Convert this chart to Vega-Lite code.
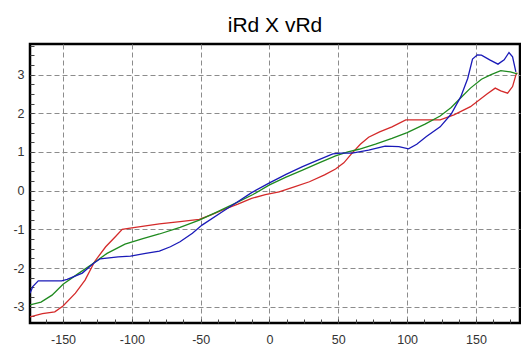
{
  "$schema": "https://vega.github.io/schema/vega-lite/v6.json",
  "width": 490,
  "height": 279,
  "autosize": "none",
  "padding": {"left": 30, "top": 44, "right": 1, "bottom": 32},
  "background": "white",
  "title": {"text": "iRd X vRd", "font": "Liberation Sans", "fontSize": 21, "fontWeight": "normal", "color": "black", "anchor": "middle", "offset": 8},
  "config": {
    "view": {"stroke": "black", "strokeWidth": 2.5},
    "axis": {"domain": false, "labelFont": "Liberation Sans", "labelFontSize": 12.5, "labelColor": "#333", "tickColor": "#444", "tickSize": -4, "gridColor": "#8c8c8c", "gridDash": [5, 3], "gridWidth": 1, "title": null}
  },
  "data": {"values": [
    {"s":"red","x":-174,"y":-3.26},{"s":"red","x":-165,"y":-3.18},{"s":"red","x":-156,"y":-3.13},{"s":"red","x":-150,"y":-2.98},{"s":"red","x":-141,"y":-2.65},{"s":"red","x":-134,"y":-2.31},{"s":"red","x":-127,"y":-1.83},{"s":"red","x":-119,"y":-1.45},{"s":"red","x":-112,"y":-1.19},{"s":"red","x":-107,"y":-1.0},{"s":"red","x":-100,"y":-0.96},{"s":"red","x":-90,"y":-0.91},{"s":"red","x":-80,"y":-0.86},{"s":"red","x":-65,"y":-0.8},{"s":"red","x":-51,"y":-0.74},{"s":"red","x":-42,"y":-0.62},{"s":"red","x":-34,"y":-0.5},{"s":"red","x":-23,"y":-0.35},{"s":"red","x":-13,"y":-0.2},{"s":"red","x":-3,"y":-0.1},{"s":"red","x":7,"y":-0.03},{"s":"red","x":18,"y":0.1},{"s":"red","x":29,"y":0.23},{"s":"red","x":40,"y":0.41},{"s":"red","x":48,"y":0.56},{"s":"red","x":54,"y":0.72},{"s":"red","x":60,"y":0.97},{"s":"red","x":66,"y":1.2},{"s":"red","x":72,"y":1.38},{"s":"red","x":80,"y":1.52},{"s":"red","x":89,"y":1.65},{"s":"red","x":99,"y":1.83},{"s":"red","x":110,"y":1.83},{"s":"red","x":124,"y":1.83},{"s":"red","x":134,"y":1.96},{"s":"red","x":146,"y":2.17},{"s":"red","x":158,"y":2.5},{"s":"red","x":164,"y":2.65},{"s":"red","x":168,"y":2.58},{"s":"red","x":173,"y":2.52},{"s":"red","x":176.6,"y":2.69},{"s":"red","x":179,"y":2.99},{"s":"red","x":180,"y":3.05},
    {"s":"green","x":-174,"y":-2.95},{"s":"green","x":-166,"y":-2.88},{"s":"green","x":-158,"y":-2.7},{"s":"green","x":-150,"y":-2.42},{"s":"green","x":-140,"y":-2.17},{"s":"green","x":-129,"y":-1.9},{"s":"green","x":-118,"y":-1.62},{"s":"green","x":-105,"y":-1.38},{"s":"green","x":-92,"y":-1.24},{"s":"green","x":-80,"y":-1.12},{"s":"green","x":-65,"y":-0.95},{"s":"green","x":-51,"y":-0.76},{"s":"green","x":-38,"y":-0.55},{"s":"green","x":-25,"y":-0.33},{"s":"green","x":-12,"y":-0.1},{"s":"green","x":0,"y":0.15},{"s":"green","x":12,"y":0.35},{"s":"green","x":24,"y":0.53},{"s":"green","x":36,"y":0.72},{"s":"green","x":48,"y":0.9},{"s":"green","x":57,"y":1.0},{"s":"green","x":65,"y":1.07},{"s":"green","x":77,"y":1.2},{"s":"green","x":89,"y":1.35},{"s":"green","x":100,"y":1.5},{"s":"green","x":113,"y":1.72},{"s":"green","x":124,"y":1.93},{"s":"green","x":132,"y":2.15},{"s":"green","x":139,"y":2.4},{"s":"green","x":146,"y":2.65},{"s":"green","x":154,"y":2.88},{"s":"green","x":161,"y":3.0},{"s":"green","x":168,"y":3.1},{"s":"green","x":175,"y":3.07},{"s":"green","x":180,"y":3.02},
    {"s":"blue","x":-174,"y":-2.65},{"s":"blue","x":-172,"y":-2.48},{"s":"blue","x":-168,"y":-2.33},{"s":"blue","x":-151,"y":-2.33},{"s":"blue","x":-147,"y":-2.29},{"s":"blue","x":-136,"y":-2.13},{"s":"blue","x":-128,"y":-1.88},{"s":"blue","x":-123,"y":-1.76},{"s":"blue","x":-110,"y":-1.71},{"s":"blue","x":-101,"y":-1.69},{"s":"blue","x":-90,"y":-1.62},{"s":"blue","x":-80,"y":-1.56},{"s":"blue","x":-72,"y":-1.45},{"s":"blue","x":-65,"y":-1.32},{"s":"blue","x":-56,"y":-1.1},{"s":"blue","x":-49,"y":-0.89},{"s":"blue","x":-34,"y":-0.54},{"s":"blue","x":-25,"y":-0.33},{"s":"blue","x":-13,"y":-0.05},{"s":"blue","x":0,"y":0.2},{"s":"blue","x":12,"y":0.42},{"s":"blue","x":24,"y":0.62},{"s":"blue","x":36,"y":0.8},{"s":"blue","x":46,"y":0.95},{"s":"blue","x":52,"y":0.97},{"s":"blue","x":60,"y":0.97},{"s":"blue","x":72,"y":1.05},{"s":"blue","x":84,"y":1.15},{"s":"blue","x":94,"y":1.14},{"s":"blue","x":101,"y":1.08},{"s":"blue","x":107,"y":1.2},{"s":"blue","x":114,"y":1.4},{"s":"blue","x":124,"y":1.65},{"s":"blue","x":132,"y":1.98},{"s":"blue","x":139,"y":2.43},{"s":"blue","x":144,"y":2.9},{"s":"blue","x":147.5,"y":3.4},{"s":"blue","x":151,"y":3.51},{"s":"blue","x":154,"y":3.5},{"s":"blue","x":160,"y":3.38},{"s":"blue","x":166,"y":3.27},{"s":"blue","x":170.5,"y":3.38},{"s":"blue","x":174,"y":3.57},{"s":"blue","x":176.6,"y":3.46},{"s":"blue","x":179,"y":3.07}
  ]},
  "mark": {"type": "line", "strokeWidth": 1.3, "clip": true},
  "encoding": {
    "x": {"field": "x", "type": "quantitative", "scale": {"domain": [-174, 182], "nice": false, "zero": false},
      "axis": {"values": [-162.5,-150,-137.5,-125,-112.5,-100,-87.5,-75,-62.5,-50,-37.5,-25,-12.5,0,12.5,25,37.5,50,62.5,75,87.5,100,112.5,125,137.5,150,162.5,175],
        "labelExpr": "datum.value % 50 === 0 ? '' + datum.value : ''",
        "gridOpacity": {"condition": {"test": "datum.value % 50 === 0", "value": 1}, "value": 0},
        "labelPadding": 14}},
    "y": {"field": "y", "type": "quantitative", "scale": {"domain": [-3.42, 3.79], "nice": false, "zero": false},
      "axis": {"values": [-3.25,-3,-2.75,-2.5,-2.25,-2,-1.75,-1.5,-1.25,-1,-0.75,-0.5,-0.25,0,0.25,0.5,0.75,1,1.25,1.5,1.75,2,2.25,2.5,2.75,3,3.25,3.5,3.75],
        "labelExpr": "datum.value % 1 === 0 ? '' + datum.value : ''",
        "gridOpacity": {"condition": {"test": "datum.value % 1 === 0", "value": 1}, "value": 0},
        "labelPadding": 10}},
    "color": {"field": "s", "type": "nominal", "scale": {"domain": ["red", "green", "blue"], "range": ["#d42a2a", "#1f8a1f", "#1a1ab8"]}, "legend": null},
    "order": {"field": "x", "type": "quantitative"}
  }
}
